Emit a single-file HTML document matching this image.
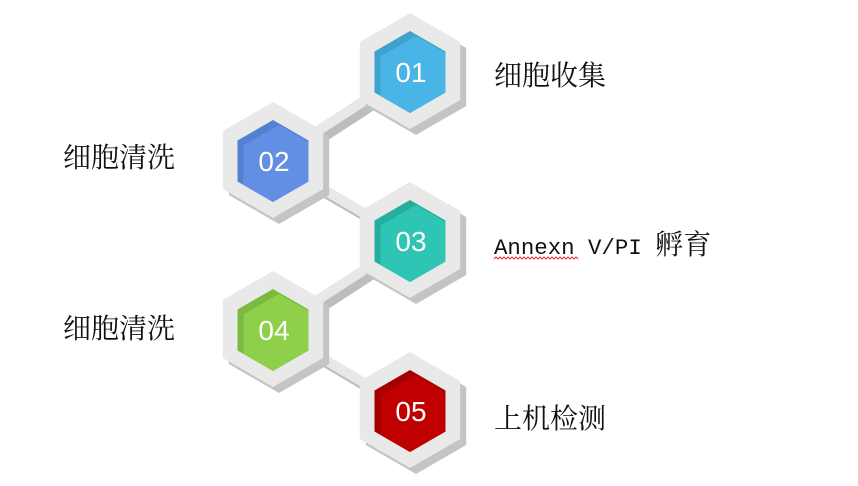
<!DOCTYPE html>
<html><head><meta charset="utf-8"><style>
html,body{margin:0;padding:0;background:#fff;}
.t{position:absolute;font-family:"Noto Serif CJK SC",serif;font-size:28px;color:#111;line-height:1;white-space:nowrap;}
.m{font-family:"Liberation Mono",monospace;font-size:22.4px;}
</style></head><body>
<div style="position:relative;width:858px;height:486px;overflow:hidden;">
<svg width="858" height="486" style="position:absolute;left:0;top:0">
<defs>
<g id="o"><polygon points="0,-58 50.2,-29 50.2,29 0,58 -50.2,29 -50.2,-29"/></g>
<clipPath id="ci"><polygon points="0,-41 35.5,-20.5 35.5,20.5 0,41 -35.5,20.5 -35.5,-20.5"/></clipPath>
</defs>
<g stroke="#bdbdbd" stroke-width="10" fill="none">
<polyline points="279,166 416,77"/>
<polyline points="279,166 416,246"/>
<polyline points="279,335 416,246"/>
<polyline points="279,335 416,416"/>
</g>
<g stroke="#e8e8e8" stroke-width="10" fill="none">
<polyline points="273,160 410,71"/>
<polyline points="273,160 410,240"/>
<polyline points="273,329 410,240"/>
<polyline points="273,329 410,410"/>
</g>
<g transform="translate(416,77)" fill="#c4c4c4"><use href="#o"/></g>
<g transform="translate(410,71)" fill="#e9e9e9"><use href="#o"/></g>
<g transform="translate(410,72)" clip-path="url(#ci)"><rect x="-40" y="-45" width="80" height="90" fill="#3ea2cd"/><polygon transform="translate(6,5)" points="0,-41 35.5,-20.5 35.5,20.5 0,41 -35.5,20.5 -35.5,-20.5" fill="#48b5e6"/></g>
<g transform="translate(279,166)" fill="#c4c4c4"><use href="#o"/></g>
<g transform="translate(273,160)" fill="#e9e9e9"><use href="#o"/></g>
<g transform="translate(273,161)" clip-path="url(#ci)"><rect x="-40" y="-45" width="80" height="90" fill="#5580cf"/><polygon transform="translate(6,5)" points="0,-41 35.5,-20.5 35.5,20.5 0,41 -35.5,20.5 -35.5,-20.5" fill="#628ee4"/></g>
<g transform="translate(416,246)" fill="#c4c4c4"><use href="#o"/></g>
<g transform="translate(410,240)" fill="#e9e9e9"><use href="#o"/></g>
<g transform="translate(410,241)" clip-path="url(#ci)"><rect x="-40" y="-45" width="80" height="90" fill="#27ad9e"/><polygon transform="translate(6,5)" points="0,-41 35.5,-20.5 35.5,20.5 0,41 -35.5,20.5 -35.5,-20.5" fill="#2ec5b4"/></g>
<g transform="translate(279,335)" fill="#c4c4c4"><use href="#o"/></g>
<g transform="translate(273,329)" fill="#e9e9e9"><use href="#o"/></g>
<g transform="translate(273,330)" clip-path="url(#ci)"><rect x="-40" y="-45" width="80" height="90" fill="#7cb93f"/><polygon transform="translate(6,5)" points="0,-41 35.5,-20.5 35.5,20.5 0,41 -35.5,20.5 -35.5,-20.5" fill="#8fd04b"/></g>
<g transform="translate(416,416)" fill="#c4c4c4"><use href="#o"/></g>
<g transform="translate(410,410)" fill="#e9e9e9"><use href="#o"/></g>
<g transform="translate(410,411)" clip-path="url(#ci)"><rect x="-40" y="-45" width="80" height="90" fill="#a40000"/><polygon transform="translate(6,5)" points="0,-41 35.5,-20.5 35.5,20.5 0,41 -35.5,20.5 -35.5,-20.5" fill="#c00000"/></g>
<g font-family="Liberation Sans, sans-serif" font-size="28" fill="#fff" text-anchor="middle">
<text x="411" y="82">01</text>
<text x="274" y="171">02</text>
<text x="411" y="251">03</text>
<text x="274" y="340">04</text>
<text x="411" y="421">05</text>
</g>
<path d="M494,259 l2,-2 2,2 2,-2 2,2 2,-2 2,2 2,-2 2,2 2,-2 2,2 2,-2 2,2 2,-2 2,2 2,-2 2,2 2,-2 2,2 2,-2 2,2 2,-2 2,2 2,-2 2,2 2,-2 2,2 2,-2 2,2 2,-2 2,2 2,-2 2,2 2,-2 2,2 2,-2 2,2 2,-2 2,2 2,-2 2,2 2,-2 2,2" stroke="#e03030" stroke-width="1" fill="none"/>
</svg>
<div class="t" style="left:494px;top:60px">细胞收集</div>
<div class="t" style="left:63px;top:142px">细胞清洗</div>
<div class="t" style="left:494px;top:229px"><span class="m">Annexn V/PI </span>孵育</div>
<div class="t" style="left:63px;top:313px">细胞清洗</div>
<div class="t" style="left:494px;top:403px">上机检测</div>
</div>
</body></html>
